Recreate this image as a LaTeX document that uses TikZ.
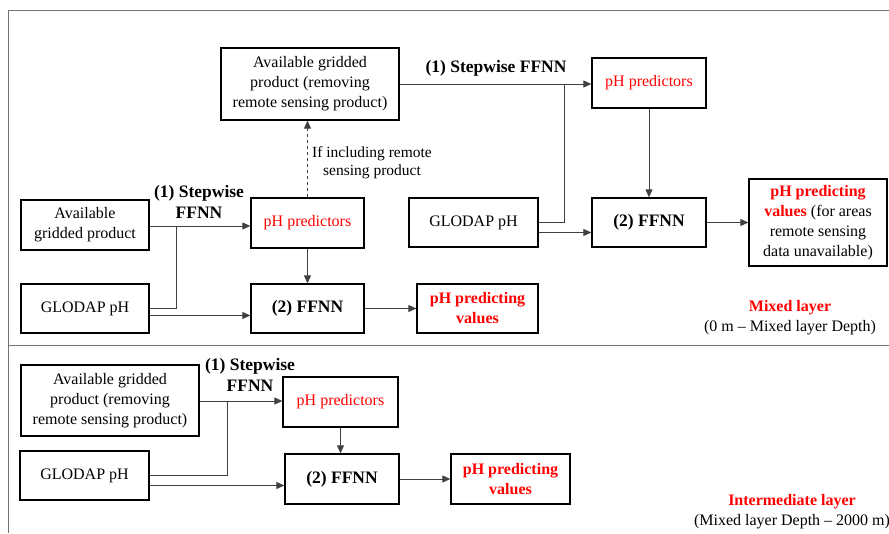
\documentclass[tikz,border=0pt]{standalone}
\usepackage{fontspec}
\setmainfont{Liberation Serif}
\usetikzlibrary{arrows.meta}
\definecolor{pred}{RGB}{255,0,0}
\begin{document}
\begin{tikzpicture}[x=1pt,y=-1pt,
  box/.style={draw=black,line width=1.3pt,inner sep=0pt,align=center,
    font=\fontsize{16}{20}\selectfont},
  lbl/.style={align=center,font=\fontsize{17.5}{21}\selectfont\bfseries},
  conn/.style={draw=black!75,line width=0.9pt},
  arr/.style={conn,-{Triangle[length=8pt,width=7pt]}},
  frame/.style={draw=black!55,line width=1pt}]
\useasboundingbox (0,0) rectangle (889,533);
% frame
\draw[frame] (8,533) -- (8,10) -- (889,10);
\draw[frame] (8,345) -- (889,345);

% ---- Mixed layer, left chain
\node[box,minimum width=128pt,minimum height=50pt] (A2) at (85,225) {Available\\gridded product};
\node[box,minimum width=113pt,minimum height=50pt,text=pred] (P1) at (307.5,223) {pH predictors};
\node[box,minimum width=128pt,minimum height=49pt] (G1) at (85,308.5) {GLODAP pH};
\node[box,minimum width=113pt,minimum height=49pt,font=\fontsize{17.5}{21}\selectfont\bfseries] (F1) at (307.5,308.5) {(2) FFNN};
\node[box,minimum width=121pt,minimum height=49pt,text=pred,font=\fontsize{16}{20}\selectfont\bfseries] (O1) at (477.5,308.5) {pH predicting\\values};
\node[lbl] (L1) at (199,201.5) {(1) Stepwise\\FFNN};
\coordinate (J1) at (176,226);
\draw[arr] (A2.east |- J1) -- (J1 -| P1.west);
\draw[conn] (G1.east) -| (J1);
\draw[arr] ([yshift=-7pt]G1.east) -- ([yshift=-7pt]G1.east -| F1.west);
\draw[arr] (P1.south) -- (P1.south |- F1.north);
\draw[arr] (F1.east) -- (O1.west);

% ---- Mixed layer, right chain
\node[box,minimum width=178pt,minimum height=72pt] (A1) at (310,84) {Available gridded\\product (removing\\remote sensing product)};
\node[box,minimum width=114pt,minimum height=50pt,text=pred] (P2) at (649,83) {pH predictors};
\node[box,minimum width=129pt,minimum height=49pt] (G2) at (473.5,222.5) {GLODAP pH};
\node[box,minimum width=114pt,minimum height=49pt,font=\fontsize{17.5}{21}\selectfont\bfseries] (F2) at (649,222.5) {(2) FFNN};
\node[box,minimum width=138pt,minimum height=87pt] (R2) at (818,222.5) {\textcolor{pred}{\bfseries pH predicting}\\\textcolor{pred}{\bfseries values} (for areas\\remote sensing\\data unavailable)};
\node[lbl] (L2) at (496,68) {(1) Stepwise FFNN};
\node[align=center,font=\fontsize{15.5}{18}\selectfont] (L3) at (372,163) {If including remote\\sensing product};
\draw[conn,dashed,-{Triangle[length=8pt,width=7pt]}] (P1.north) -- (P1.north |- A1.south);
\coordinate (J2) at (564,84);
\draw[arr] (A1.east |- J2) -- (J2 -| P2.west);
\draw[conn] (G2.east) -| (J2);
\draw[arr] ([yshift=-10pt]G2.east) -- ([yshift=-10pt]G2.east -| F2.west);
\draw[arr] (P2.south) -- (F2.north);
\draw[arr] (F2.east) -- (F2.east -| R2.west);
\node[align=center,font=\fontsize{16}{20}\selectfont] (T1) at (790,318) {\textcolor{pred}{\bfseries Mixed layer}\\(0 m -- Mixed layer Depth)};

% ---- Intermediate layer
\node[box,minimum width=178pt,minimum height=71pt] (A3) at (110,400.5) {Available gridded\\product (removing\\remote sensing product)};
\node[box,minimum width=115pt,minimum height=50pt,text=pred] (P3) at (340.5,402) {pH predictors};
\node[box,minimum width=129pt,minimum height=49pt] (G3) at (84.5,475.5) {GLODAP pH};
\node[box,minimum width=114pt,minimum height=50pt,font=\fontsize{17.5}{21}\selectfont\bfseries] (F3) at (342,479) {(2) FFNN};
\node[box,minimum width=119pt,minimum height=50pt,text=pred,font=\fontsize{16}{20}\selectfont\bfseries] (O3) at (510.5,479) {pH predicting\\values};
\node[lbl] (L4) at (250,374.5) {(1) Stepwise\\FFNN};
\coordinate (J3) at (227,401);
\draw[arr] (A3.east |- J3) -- (J3 -| P3.west);
\draw[conn] (G3.east) -| (J3);
\draw[arr] ([yshift=-10pt]G3.east) -- ([yshift=-10pt]G3.east -| F3.west);
\draw[arr] (P3.south) -- (P3.south |- F3.north);
\draw[arr] (F3.east) -- (O3.west);
\node[align=center,font=\fontsize{16}{20}\selectfont] (T2) at (792,512) {\textcolor{pred}{\bfseries Intermediate layer}\\(Mixed layer Depth -- 2000 m)};
\end{tikzpicture}
\end{document}
